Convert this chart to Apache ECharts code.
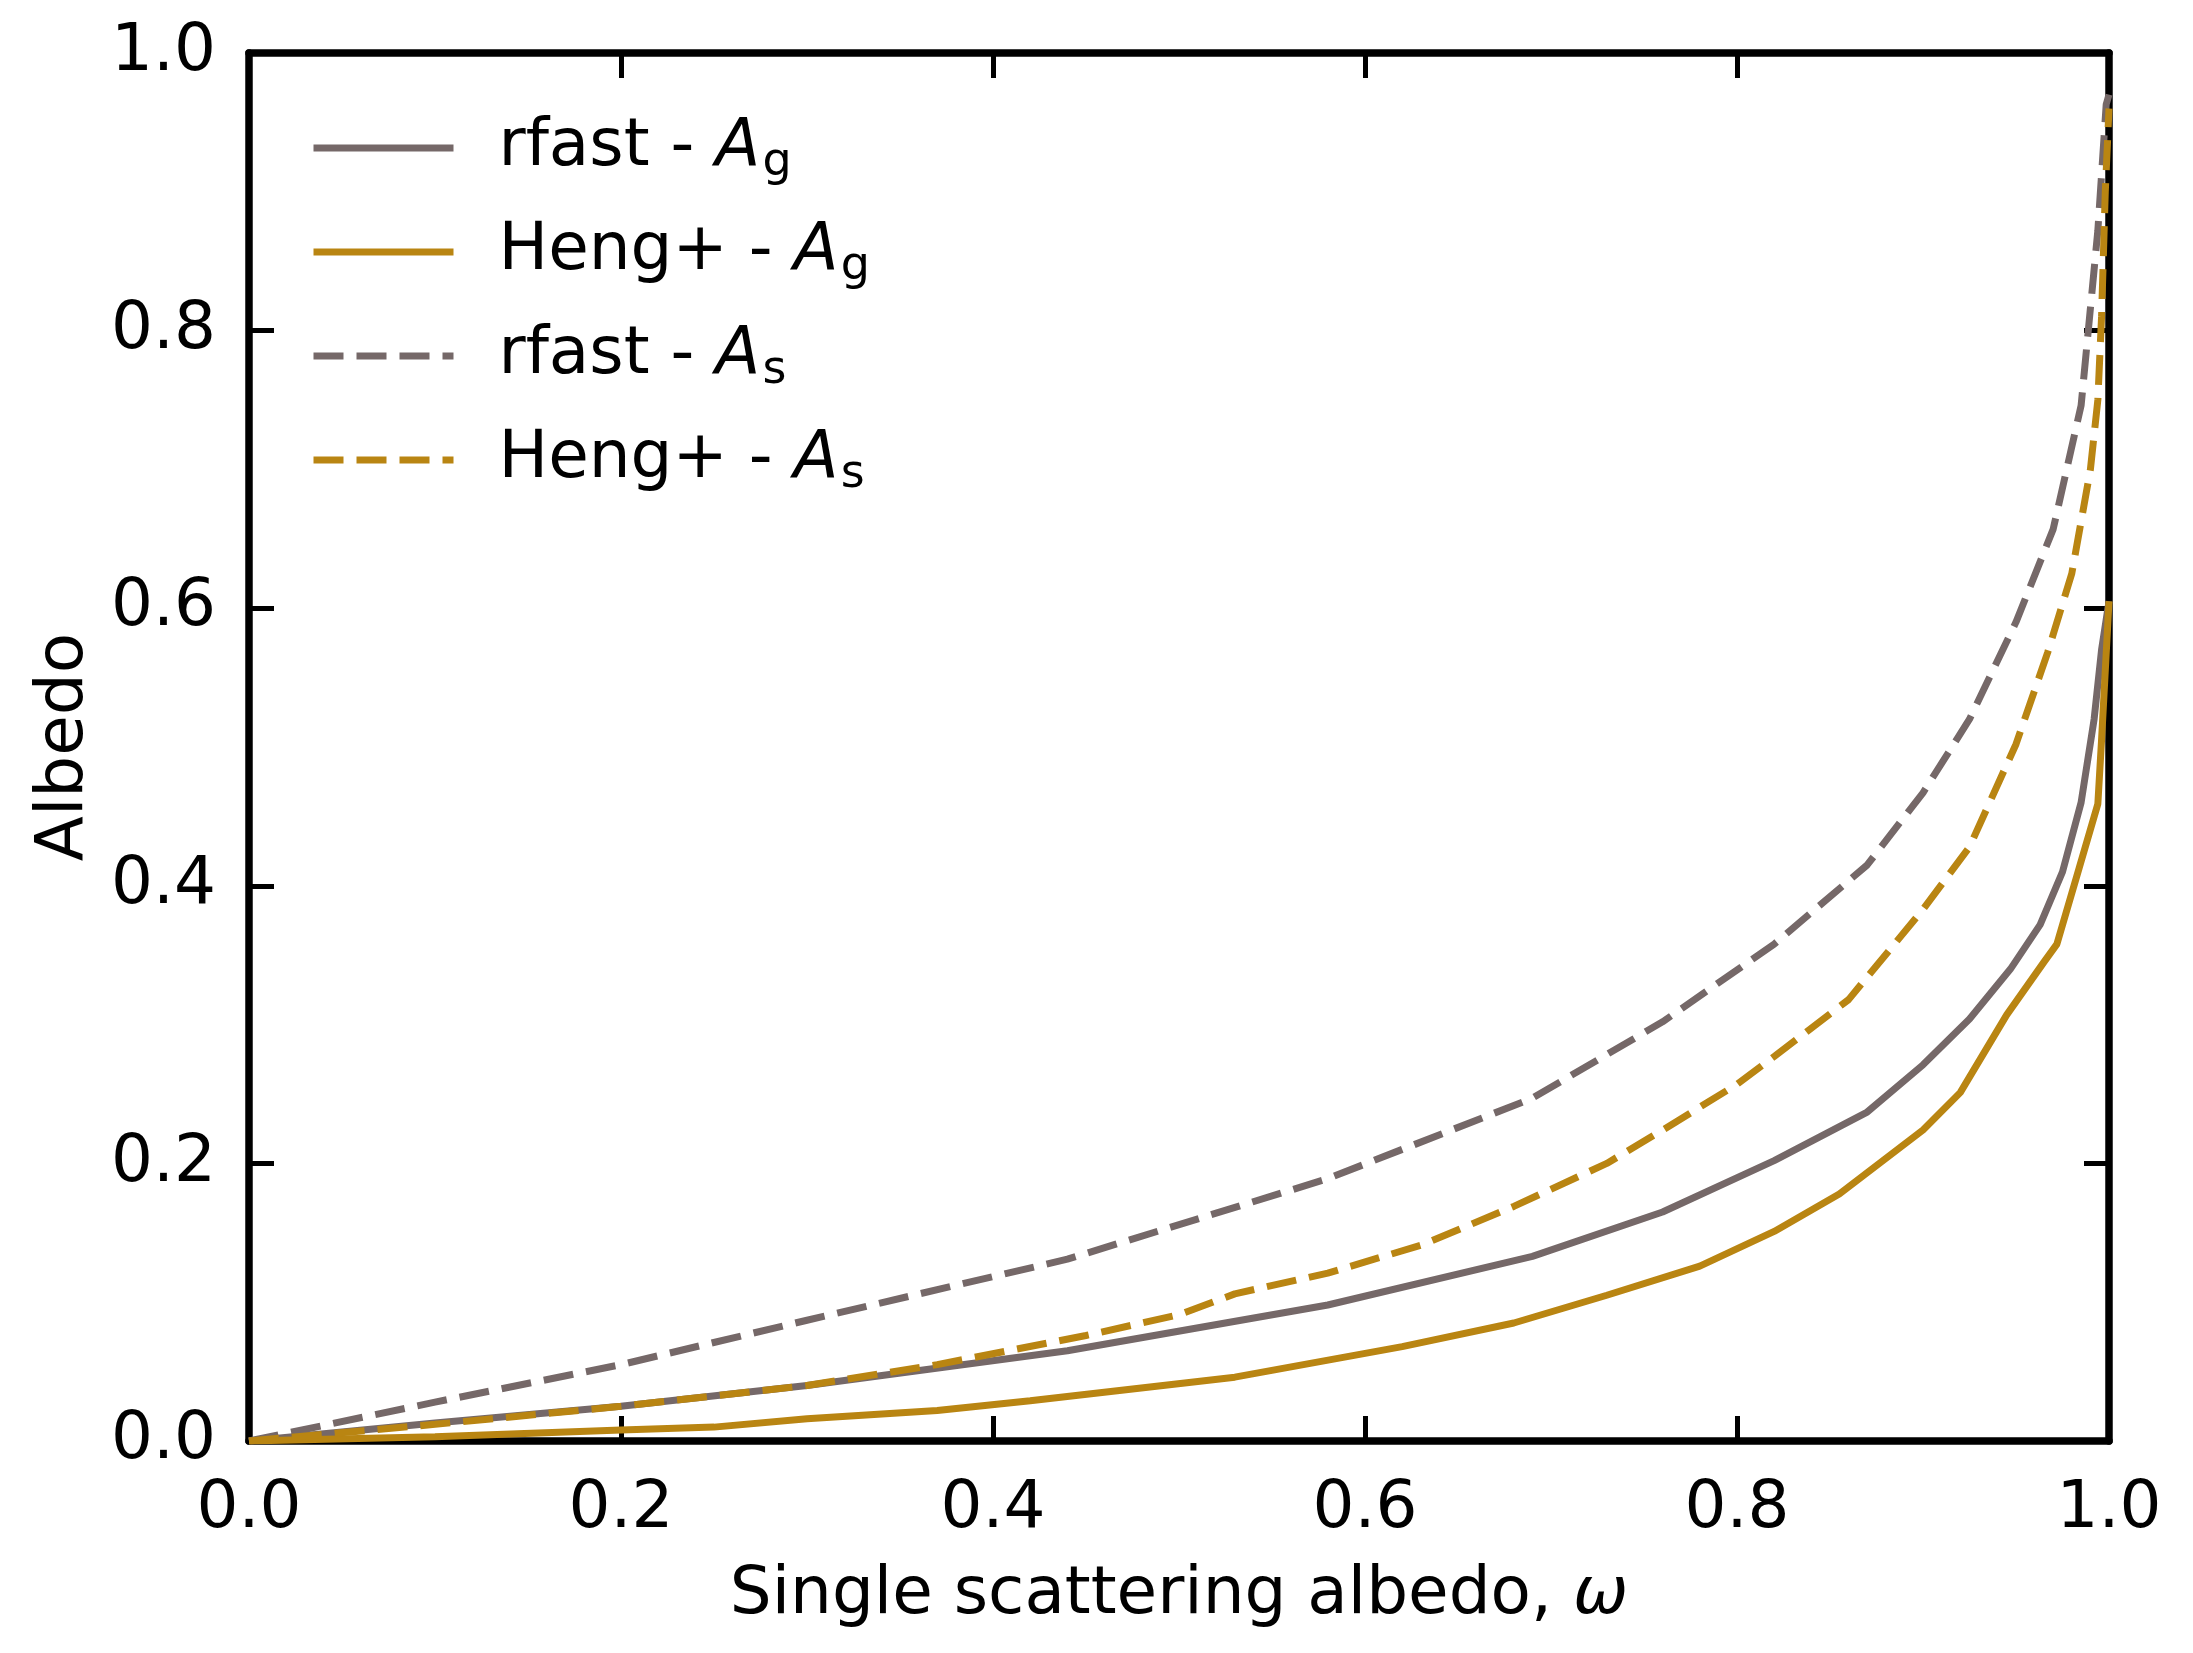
<!doctype html>
<html lang="en">
<head>
    <meta charset="UTF-8">
    <title>Albedo vs single scattering albedo</title>
    <script src="https://cdn.jsdelivr.net/npm/echarts@6/dist/echarts.min.js"></script>
    <style>html, body { margin: 0; background: #fff; }</style>
</head>
<body>
<div id="main" style="width:2193px; height:1653px;"></div>

<script>
    // omega values and albedos
    var rfastAgX = [0, 0.1, 0.2, 0.3, 0.44, 0.58, 0.69, 0.76, 0.82, 0.87, 0.9, 0.925, 0.947, 0.963, 0.975, 0.985, 0.992, 0.996, 1.0];
    var rfastAgY = [0, 0.013, 0.025, 0.04, 0.065, 0.098, 0.133, 0.165, 0.202, 0.237, 0.271, 0.304, 0.34, 0.372, 0.41, 0.46, 0.52, 0.57, 0.605];

    var hengAgX = [0, 0.1, 0.2, 0.25, 0.3, 0.37, 0.42, 0.53, 0.62, 0.68, 0.73, 0.78, 0.82, 0.855, 0.9, 0.92, 0.945, 0.965, 0.972, 0.984, 0.994, 0.996, 1.0];
    var hengAgY = [0, 0.003, 0.008, 0.01, 0.016, 0.022, 0.029, 0.046, 0.068, 0.085, 0.105, 0.126, 0.151, 0.178, 0.224, 0.251, 0.307, 0.345, 0.358, 0.413, 0.459, 0.505, 0.605];

    var rfastAsX = [0, 0.1, 0.2, 0.3, 0.44, 0.58, 0.69, 0.76, 0.82, 0.87, 0.9, 0.925, 0.95, 0.97, 0.985, 0.994, 0.9985, 1.0];
    var rfastAsY = [0, 0.028, 0.055, 0.087, 0.131, 0.189, 0.247, 0.302, 0.358, 0.415, 0.467, 0.52, 0.59, 0.657, 0.746, 0.872, 0.963, 0.97];

    var hengAsX = [0, 0.1, 0.2, 0.3, 0.37, 0.45, 0.5, 0.53, 0.58, 0.63, 0.68, 0.73, 0.76, 0.8, 0.82, 0.86, 0.9, 0.925, 0.95, 0.967, 0.98, 0.99, 0.994, 0.996, 0.998, 1.0];
    var hengAsY = [0, 0.012, 0.025, 0.04, 0.055, 0.076, 0.091, 0.106, 0.121, 0.141, 0.169, 0.2, 0.224, 0.257, 0.277, 0.318, 0.383, 0.428, 0.502, 0.568, 0.625, 0.70, 0.75, 0.81, 0.90, 0.96];

    var seriesNames = ['rfast - Ag', 'Heng+ - Ag', 'rfast - As', 'Heng+ - As'];

    var grey = '#756868';
    var gold = '#b98512';
    var font = 'DejaVu Sans';
    var fs = 66;
    var lw = 7;
    var dash = [30, 13];

    function pairs(xs, ys) {
        return xs.map(function (x, i) { return [x, ys[i]]; });
    }

    function tickLabel(margin) {
        return {
            show: true, margin: margin, fontSize: fs, fontFamily: font, color: '#000',
            formatter: function (v) { return v.toFixed(1); }
        };
    }

    function mainAxis(extra) {
        var ax = {
            type: 'value', min: 0, max: 1, interval: 0.2,
            axisLine: { show: true, onZero: false, lineStyle: { color: '#000', width: 7.5 } },
            axisTick: { show: true, inside: true, length: 25, lineStyle: { color: '#000', width: 5 } },
            splitLine: { show: false },
            axisLabel: tickLabel(36)
        };
        return Object.assign(ax, extra);
    }

    var myChart = echarts.init(document.getElementById('main'));
    myChart.setOption({
        animation: false,
        backgroundColor: '#fff',
        grid: { left: 249, right: 84, top: 53, bottom: 212 },
        legend: {
            orient: 'vertical',
            left: 305, top: 105,
            itemWidth: 140, itemHeight: 20, itemGap: 28,
            data: seriesNames,
            itemStyle: { color: 'rgba(0,0,0,0)', borderWidth: 0, opacity: 0 },
            lineStyle: { width: lw },
            textStyle: {
                fontSize: fs, fontFamily: font, color: '#000', padding: [0, 0, 0, 40],
                rich: {
                    n: { fontSize: fs, fontFamily: font, color: '#000', lineHeight: 80 },
                    i: { fontSize: fs, fontFamily: font, fontStyle: 'italic', color: '#000', lineHeight: 80 },
                    s: { fontSize: 46, fontFamily: font, color: '#000', lineHeight: 50, padding: [30, 0, 0, 2] }
                }
            },
            formatter: function (name) {
                var head = name.split(' - A')[0];
                var sub = name.slice(-1);
                return '{n|' + head + ' - }{i|A}{s|' + sub + '}';
            }
        },
        xAxis: [
            mainAxis({
                position: 'bottom',
                name: 'Single scattering albedo, {w|ω}',
                nameLocation: 'middle', nameGap: 122,
                nameTextStyle: {
                    fontSize: fs, fontFamily: font, color: '#000',
                    rich: { w: { fontSize: fs, fontFamily: font, fontStyle: 'italic', color: '#000' } }
                }
            }),
            mainAxis({ position: 'top', axisLabel: { show: false } })
        ],
        yAxis: [
            mainAxis({
                position: 'left',
                axisLabel: tickLabel(33),
                name: 'Albedo',
                nameLocation: 'middle', nameGap: 151,
                nameTextStyle: { fontSize: fs, fontFamily: font, color: '#000' }
            }),
            mainAxis({ position: 'right', axisLabel: { show: false } })
        ],
        series: [
            {
                name: seriesNames[0], type: 'line', symbol: 'none',
                data: pairs(rfastAgX, rfastAgY),
                lineStyle: { color: grey, width: lw }, itemStyle: { color: grey }
            },
            {
                name: seriesNames[1], type: 'line', symbol: 'none',
                data: pairs(hengAgX, hengAgY),
                lineStyle: { color: gold, width: lw }, itemStyle: { color: gold }
            },
            {
                name: seriesNames[2], type: 'line', symbol: 'none',
                data: pairs(rfastAsX, rfastAsY),
                lineStyle: { color: grey, width: lw, type: dash }, itemStyle: { color: grey }
            },
            {
                name: seriesNames[3], type: 'line', symbol: 'none',
                data: pairs(hengAsX, hengAsY),
                lineStyle: { color: gold, width: lw, type: dash }, itemStyle: { color: gold }
            }
        ]
    });
</script>
</body>
</html>
